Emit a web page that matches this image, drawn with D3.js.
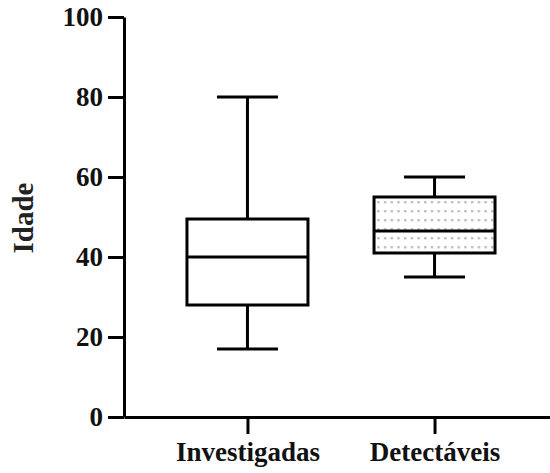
<!DOCTYPE html>
<html>
<head>
	<meta charset="utf-8">
	<title></title>
	<style type="text/css">
		body {
			margin: 0;
			background-color: #fff;
		}

		svg {
			background-color: #fff;
			display: block;
		}

		.axis path, .axis line {
			stroke: #000;
			stroke-width: 3px;
		}

		.box, .whisker, .cap, .median {
			stroke: #000;
			stroke-width: 3px;
		}
	</style>
	<script type="text/javascript" src="https://cdn.jsdelivr.net/npm/d3@7"></script>
</head>

<body>
	<div id='chart'></div>
	<script type="text/javascript">
		var categories = ['Investigadas', 'Detectáveis'];
		var mins = [17, 35];
		var q1s = [28, 41];
		var medians = [40, 46.5];
		var q3s = [49.5, 55];
		var maxs = [80, 60];
		var yTicks = [0, 20, 40, 60, 80, 100];

		var width = 550, height = 473, boxWidth = 121, capWidth = 61;
		var fontFam = "'Liberation Serif', 'Times New Roman', Tinos, serif";

		var svg = d3.select('#chart')
			.append('svg')
			.attr('width', width)
			.attr('height', height)
			.attr('font-family', fontFam);

		// dotted fill for the second box
		var defs = svg.append('defs');
		var pat = defs.append('pattern')
			.attr('id', 'dots')
			.attr('patternUnits', 'userSpaceOnUse')
			.attr('width', 6.7)
			.attr('height', 9);
		pat.append('rect')
			.attr('width', 6.7).attr('height', 9)
			.attr('fill', '#fff');
		pat.append('rect')
			.attr('x', 2).attr('y', 3)
			.attr('width', 2.4).attr('height', 2.4)
			.attr('fill', '#bdbdbd');

		var yScale = d3.scaleLinear()
			.domain([0, 100])
			.range([417, 17]);

		var xScale = d3.scalePoint()
			.domain(categories)
			.range([124, 558])
			.padding(0.66);

		var data = categories.map(function(c, i) {
			return {cat: c, min: mins[i], q1: q1s[i], med: medians[i], q3: q3s[i], max: maxs[i], fill: i == 1 ? 'url(#dots)' : '#fff'};
		});

		var g = svg.selectAll('.boxg')
			.data(data)
			.enter()
			.append('g')
			.attr('class', 'boxg');

		// whisker lines
		g.append('line')
			.attr('class', 'whisker')
			.attr('x1', function(d){ return xScale(d.cat); })
			.attr('x2', function(d){ return xScale(d.cat); })
			.attr('y1', function(d){ return yScale(d.min); })
			.attr('y2', function(d){ return yScale(d.max); });

		// caps
		g.append('line')
			.attr('class', 'cap')
			.attr('x1', function(d){ return xScale(d.cat) - capWidth/2; })
			.attr('x2', function(d){ return xScale(d.cat) + capWidth/2; })
			.attr('y1', function(d){ return yScale(d.max); })
			.attr('y2', function(d){ return yScale(d.max); });
		g.append('line')
			.attr('class', 'cap')
			.attr('x1', function(d){ return xScale(d.cat) - capWidth/2; })
			.attr('x2', function(d){ return xScale(d.cat) + capWidth/2; })
			.attr('y1', function(d){ return yScale(d.min); })
			.attr('y2', function(d){ return yScale(d.min); });

		// box
		g.append('rect')
			.attr('class', 'box')
			.attr('x', function(d){ return xScale(d.cat) - boxWidth/2; })
			.attr('y', function(d){ return yScale(d.q3); })
			.attr('width', boxWidth)
			.attr('height', function(d){ return yScale(d.q1) - yScale(d.q3); })
			.attr('fill', function(d){ return d.fill; });

		// median
		g.append('line')
			.attr('class', 'median')
			.attr('x1', function(d){ return xScale(d.cat) - boxWidth/2; })
			.attr('x2', function(d){ return xScale(d.cat) + boxWidth/2; })
			.attr('y1', function(d){ return yScale(d.med); })
			.attr('y2', function(d){ return yScale(d.med); });

		var yAxis = d3.axisLeft(yScale)
			.tickValues(yTicks)
			.tickSize(16)
			.tickSizeOuter(0)
			.tickPadding(5);

		var xAxis = d3.axisBottom(xScale)
			.tickSize(17)
			.tickSizeOuter(0)
			.tickPadding(8);

		var yAxisG = svg.append('g')
			.attr('class', 'axis')
			.attr('transform', 'translate(124,0)')
			.call(yAxis)
			.attr('font-family', fontFam)
			.attr('font-size', 27)
			.attr('font-weight', 'bold');

		var xAxisG = svg.append('g')
			.attr('class', 'axis')
			.attr('transform', 'translate(0,417)')
			.call(xAxis)
			.attr('font-family', fontFam)
			.attr('font-size', 27)
			.attr('font-weight', 'bold');

		svg.selectAll('.axis text')
			.attr('font-family', fontFam)
			.attr('fill', '#111');

		svg.append('text')
			.attr('transform', 'translate(33,218) rotate(-90)')
			.attr('text-anchor', 'middle')
			.attr('font-family', fontFam)
			.attr('font-weight', 'bold')
			.attr('font-size', 29)
			.attr('fill', '#222')
			.text('Idade');
	</script>
</body>
</html>
